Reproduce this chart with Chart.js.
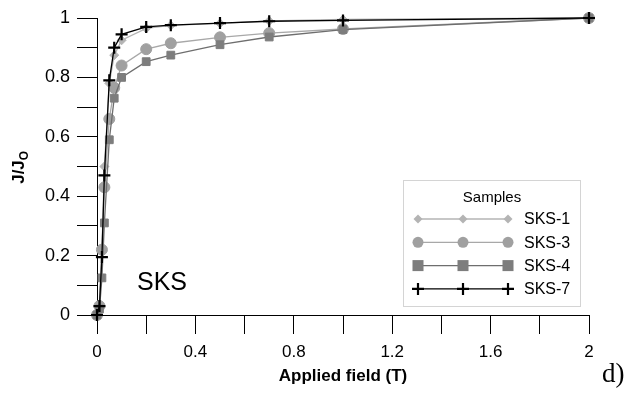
<!DOCTYPE html>
<html>
<head>
<meta charset="utf-8">
<script src="https://cdn.jsdelivr.net/npm/chart.js@4.4.1/dist/chart.umd.min.js"></script>
<style>
  html, body { margin: 0; padding: 0; background: #fff; }
  #wrap { width: 644px; height: 394px; }
</style>
</head>
<body>
<div id="wrap"><canvas id="fieldChart" width="644" height="394"></canvas></div>
<script>
// applied field (T) and normalised current J/Jo for each sample
const fieldT = [0, 0.01, 0.02, 0.03, 0.05, 0.07, 0.1, 0.2, 0.3, 0.5, 0.7, 1, 2];
const sks1 = [0, 0.03, 0.22, 0.5, 0.78, 0.875, 0.925, 0.965, 0.975, 0.982, 0.99, 0.995, 1];
const sks3 = [0, 0.03, 0.22, 0.43, 0.66, 0.765, 0.84, 0.895, 0.915, 0.935, 0.949, 0.963, 1];
const sks4 = [0, 0.02, 0.125, 0.31, 0.59, 0.73, 0.80, 0.853, 0.875, 0.91, 0.936, 0.961, 1];
const sks7 = [0, 0.03, 0.195, 0.47, 0.79, 0.90, 0.945, 0.97, 0.976, 0.983, 0.989, 0.992, 1];
const sampleNames = ["SKS-1", "SKS-3", "SKS-4", "SKS-7"];
const xTickLabels = ["0", "0.4", "0.8", "1.2", "1.6", "2"];
const yTickLabels = ["0", "0.2", "0.4", "0.6", "0.8", "1"];

const FONT = "'Liberation Sans', Arial, sans-serif";

function pts(ys) {
    return fieldT.map((x, i) => ({ x: x, y: ys[i] }));
}

const styles = [
    { color: "#b4b4b4", line: "#b4b4b4", point: "rectRot", r: 4.5, bw: 1 },
    { color: "#a0a0a0", line: "#a8a8a8", point: "circle", r: 5.5, bw: 1 },
    { color: "#7d7d7d", line: "#6e6e6e", point: "rect", r: 5.5, bw: 1 },
    { color: "#000000", line: "#000000", point: "cross", r: 6, bw: 2.2 }
];
const series = [sks1, sks3, sks4, sks7];

const datasets = series.map((s, i) => ({
    label: sampleNames[i],
    data: pts(s),
    borderColor: styles[i].line,
    borderWidth: 1.3,
    backgroundColor: styles[i].color,
    pointBackgroundColor: styles[i].color,
    pointBorderColor: styles[i].color,
    pointBorderWidth: styles[i].bw,
    pointStyle: styles[i].point,
    pointRadius: styles[i].r,
    pointHoverRadius: styles[i].r,
    tension: 0,
    clip: false,
    order: 3 - i
}));

// marker drawing for the legend
function marker(ctx, st, x, y) {
    ctx.save();
    ctx.fillStyle = st.color;
    ctx.strokeStyle = st.color;
    const r = st.r;
    if (st.point === "rectRot") {
        ctx.beginPath();
        ctx.moveTo(x, y - r); ctx.lineTo(x + r, y); ctx.lineTo(x, y + r); ctx.lineTo(x - r, y);
        ctx.closePath(); ctx.fill();
    } else if (st.point === "circle") {
        ctx.beginPath(); ctx.arc(x, y, r, 0, Math.PI * 2); ctx.fill();
    } else if (st.point === "rect") {
        ctx.fillRect(x - r, y - r, r * 2, r * 2);
    } else {
        ctx.lineWidth = st.bw;
        ctx.beginPath();
        ctx.moveTo(x - r, y); ctx.lineTo(x + r, y);
        ctx.moveTo(x, y - r); ctx.lineTo(x, y + r);
        ctx.stroke();
    }
    ctx.restore();
}

const extras = {
    id: "extras",
    afterDraw(chart) {
        const ctx = chart.ctx;
        ctx.save();

        // y title J/Jo
        ctx.translate(24, 167);
        ctx.rotate(-Math.PI / 2);
        ctx.fillStyle = "#000";
        ctx.font = "bold 17px " + FONT;
        ctx.textBaseline = "alphabetic";
        ctx.textAlign = "left";
        const main = "J/J";
        const w = ctx.measureText(main).width;
        ctx.fillText(main, -w / 2 - 5, 0);
        ctx.font = "bold 12px " + FONT;
        ctx.fillText("O", w / 2 - 5, 4);
        ctx.restore();

        // legend box
        ctx.save();
        ctx.strokeStyle = "#d4d4d4";
        ctx.lineWidth = 1;
        ctx.strokeRect(403.5, 180.5, 177, 126);
        ctx.fillStyle = "#000";
        ctx.font = "15px " + FONT;
        ctx.textAlign = "center";
        ctx.textBaseline = "middle";
        ctx.fillText("Samples", 492, 198);
        ctx.textAlign = "left";
        ctx.font = "16px " + FONT;
        sampleNames.forEach((name, i) => {
            const y = 219 + i * 23.3;
            const st = styles[i];
            ctx.strokeStyle = st.line;
            ctx.lineWidth = 1.3;
            ctx.beginPath(); ctx.moveTo(418, y); ctx.lineTo(508, y); ctx.stroke();
            [418, 463, 508].forEach(x => marker(ctx, st, x, y));
            ctx.fillStyle = "#000";
            ctx.fillText(name, 524, y + 1);
        });

        // panel annotations
        ctx.font = "25px " + FONT;
        ctx.textBaseline = "alphabetic";
        ctx.fillText("SKS", 137, 290);
        ctx.font = "27px 'Liberation Serif', 'Times New Roman', serif";
        ctx.fillText("d)", 602, 382);
        ctx.restore();
    }
};

new Chart(document.getElementById("fieldChart"), {
    type: "line",
    data: { datasets: datasets },
    options: {
        responsive: false,
        animation: false,
        devicePixelRatio: 1,
        layout: { padding: { left: 0, top: 18, right: 55, bottom: 0 } },
        plugins: {
            legend: { display: false },
            tooltip: { enabled: false }
        },
        scales: {
            x: {
                type: "linear",
                min: 0,
                max: 2,
                afterFit(scale) { scale.height = 79; },
                border: { display: true, color: "#000", width: 1 },
                grid: { drawOnChartArea: false, drawTicks: true, tickLength: 19, color: "#000", tickColor: "#000" },
                ticks: {
                    stepSize: 0.2,
                    autoSkip: false,
                    maxRotation: 0,
                    padding: 8,
                    color: "#000",
                    font: { family: FONT, size: 17 },
                    callback: v => {
                        const n = Math.round(v * 10);
                        return n % 4 === 0 ? xTickLabels[n / 4] : "";
                    }
                },
                title: {
                    display: true,
                    text: "Applied field (T)",
                    color: "#000",
                    font: { family: FONT, size: 17, weight: "bold" },
                    padding: { top: 0, bottom: 7 }
                }
            },
            y: {
                min: 0,
                max: 1,
                afterFit(scale) { scale.width = 97; },
                border: { display: true, color: "#000", width: 1 },
                grid: { drawOnChartArea: false, drawTicks: true, tickLength: 20, color: "#000", tickColor: "#000" },
                ticks: {
                    stepSize: 0.1,
                    autoSkip: false,
                    padding: 7,
                    color: "#000",
                    font: { family: FONT, size: 18 },
                    callback: v => {
                        const n = Math.round(v * 10);
                        return n % 2 === 0 ? yTickLabels[n / 2] : "";
                    }
                }
            }
        }
    },
    plugins: [extras]
});
</script>
</body>
</html>
